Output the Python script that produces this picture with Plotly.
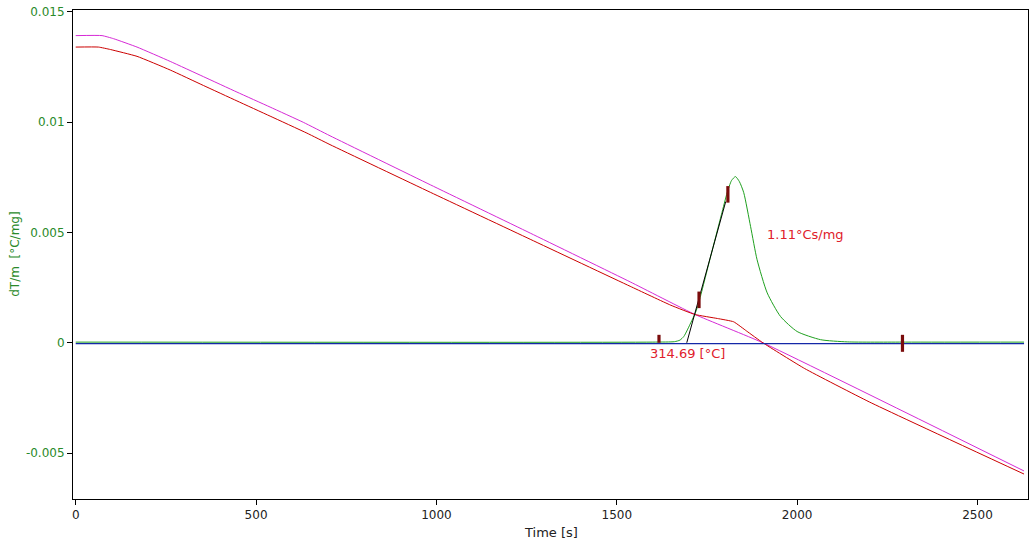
import plotly.graph_objects as go

# ---- data ----
mag_t = [0, 73, 105, 170, 262, 354, 447, 539, 631, 705, 983, 1260, 1537, 1717, 1905, 2629]
mag_v = [0.01392, 0.01392, 0.01378, 0.01340, 0.01275, 0.01206, 0.01136, 0.01068, 0.00999,
         0.00938, 0.00716, 0.00497, 0.00276, 0.00128, 0.0, -0.00581]

red_t = [0, 63, 96, 170, 262, 354, 447, 539, 641, 705, 983, 1260, 1537, 1650, 1717, 1779,
         1824, 1860, 1905, 2021, 2200, 2629]
red_v = [0.01340, 0.01340, 0.01329, 0.01298, 0.01236, 0.01166, 0.01096, 0.01027, 0.00950,
         0.00898, 0.00682, 0.00469, 0.00256, 0.00170, 0.00128, 0.00110, 0.00095, 0.00053,
         0.0, -0.00117, -0.00268, -0.00595]

grn_t = [0, 1600, 1660, 1675, 1686, 1705, 1718, 1727, 1760, 1790, 1806, 1818, 1829, 1840,
         1852, 1871, 1889, 1917, 1954, 2000, 2065, 2139, 2300, 2629]
grn_v = [0.00003, 0.00003, 0.00005, 0.00012, 0.00029, 0.0009, 0.00136, 0.0018, 0.0039,
         0.0058, 0.0068, 0.00735, 0.00753, 0.0073, 0.0068, 0.00526, 0.00376, 0.00226,
         0.00119, 0.00051, 0.00014, 0.00004, 0.00003, 0.00003]

base_t = [0, 2629]
base_v = [-0.00004, -0.00004]

tan_t = [1694, 1802]
tan_v = [0.0, 0.0064]

marker_t = [1617, 1728, 1808, 2292]
marker_lo = [0.0, 0.00157, 0.00635, -0.00041]
marker_hi = [0.00036, 0.00232, 0.0071, 0.00036]

onset_label = "314.69 [°C]"
onset_pos = (1696, -0.00048)
area_label = "1.11°Cs/mg"
area_pos = (1910, 0.00489)

x_ticks = [0, 500, 1000, 1500, 2000, 2500]
x_ticktext = ["0", "500", "1000", "1500", "2000", "2500"]
y_ticks = [-0.005, 0, 0.005, 0.01, 0.015]
y_ticktext = ["-0.005", "0", "0.005", "0.01", "0.015"]

GREEN_TXT = "#2a8a2a"
FONT = "DejaVu Sans"

fig = go.Figure()
fig.add_trace(go.Scatter(x=mag_t, y=mag_v, mode="lines",
                         line=dict(color="#d62ad6", width=1, shape="spline", smoothing=0.4)))
fig.add_trace(go.Scatter(x=red_t, y=red_v, mode="lines",
                         line=dict(color="#cc0000", width=1, shape="spline", smoothing=0.4)))
fig.add_trace(go.Scatter(x=grn_t, y=grn_v, mode="lines",
                         line=dict(color="#1fa01f", width=1, shape="spline", smoothing=0.6)))
fig.add_trace(go.Scatter(x=base_t, y=base_v, mode="lines",
                         line=dict(color="#1428a8", width=1.3)))
fig.add_trace(go.Scatter(x=tan_t, y=tan_v, mode="lines",
                         line=dict(color="#000000", width=1)))

mx, my = [], []
for t, lo, hi in zip(marker_t, marker_lo, marker_hi):
    mx += [t, t, None]
    my += [lo, hi, None]
fig.add_trace(go.Scatter(x=mx, y=my, mode="lines",
                         line=dict(color="#7a0c0c", width=3.2)))

fig.add_annotation(x=onset_pos[0], y=onset_pos[1], text=onset_label, showarrow=False,
                   xanchor="center", yanchor="middle",
                   font=dict(family=FONT, size=13, color="#e0202a"))
fig.add_annotation(x=area_pos[0], y=area_pos[1], text=area_label, showarrow=False,
                   xanchor="left", yanchor="middle",
                   font=dict(family=FONT, size=13, color="#e0202a"))

# axis titles
fig.add_annotation(xref="paper", yref="paper", x=0.5, y=-0.068, text="Time [s]",
                   showarrow=False, xanchor="center", yanchor="middle",
                   font=dict(family=FONT, size=13, color="#222222"))
fig.add_annotation(xref="paper", yref="paper", x=-0.0615, y=0.5, text="dT/m  [°C/mg]",
                   textangle=-90, showarrow=False, xanchor="center", yanchor="middle",
                   font=dict(family=FONT, size=12, color=GREEN_TXT))

fig.update_layout(
    width=1032, height=544,
    margin=dict(l=73, r=4, t=10, b=45),
    paper_bgcolor="white", plot_bgcolor="white",
    showlegend=False,
    hovermode=False,
    font=dict(family=FONT, size=12),
    xaxis=dict(range=[-7.5, 2640], tickvals=x_ticks, ticktext=x_ticktext,
               showgrid=False, zeroline=False, showline=True, mirror=True,
               linecolor="black", linewidth=1, ticks="outside", ticklen=5,
               tickcolor="black", tickfont=dict(family=FONT, size=12, color="#222222")),
    yaxis=dict(range=[-0.00708, 0.01508], tickvals=y_ticks, ticktext=y_ticktext,
               showgrid=False, zeroline=False, showline=True, mirror=True,
               linecolor="black", linewidth=1, ticks="outside", ticklen=5,
               tickcolor="black", tickfont=dict(family=FONT, size=12, color=GREEN_TXT)),
)

fig.write_html("out.html",
               config={"displayModeBar": False},
               post_script="document.body.style.margin='0';document.body.style.padding='0';"
                           "document.body.style.overflow='hidden';")
